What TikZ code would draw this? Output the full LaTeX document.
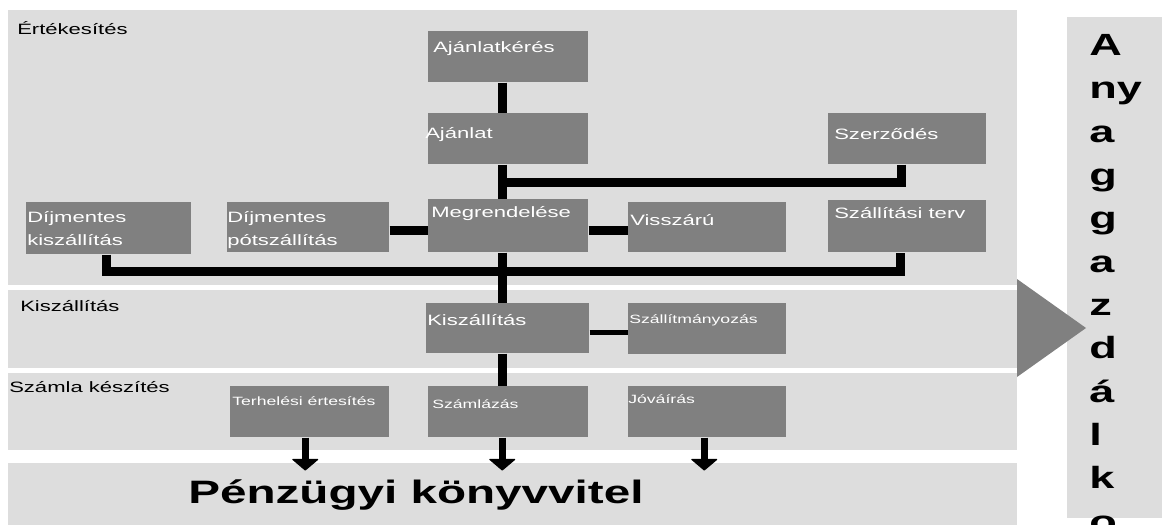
\documentclass[tikz,border=0pt]{standalone}
\usepackage{fontspec}
\setmainfont{Liberation Sans}[FakeStretch=1.47]
\usepackage{xcolor}
\usepackage{tikz}
\usetikzlibrary{arrows.meta, calc}
\definecolor{bandgray}{HTML}{DDDDDD}
\definecolor{boxgray}{HTML}{808080}
\tikzstyle{proc} = [rectangle, anchor=north west, inner sep=0pt, minimum width=120pt, minimum height=38.25pt, fill=boxgray]
\tikzstyle{proctext} = [anchor=base west, inner sep=0pt, text=white, align=left, font=\fontsize{11.25pt}{17.25pt}\selectfont]
\tikzstyle{smalltext} = [proctext, font=\fontsize{9pt}{11pt}\selectfont]
\tikzstyle{lanetext} = [anchor=base west, inner sep=0pt, font=\fontsize{11.25pt}{13.5pt}\selectfont]
\tikzstyle{link} = [line width=7pt]
\tikzstyle{thinlink} = [line width=3.75pt]
\tikzstyle{arrow} = [line width=5.5pt, -{Triangle[width=21pt, length=9pt, line width=1pt, round]}]

\begin{document}
\begin{tikzpicture}[x=0.75pt, y=-0.75pt]
  \useasboundingbox (0,0) rectangle (1162,524);
  % lanes
  \fill[bandgray] (8,10) rectangle (1017,285);
  \fill[bandgray] (8,290) rectangle (1017,368);
  \fill[bandgray] (8,373) rectangle (1017,450);
  \fill[bandgray] (8,463) rectangle (1017,530);
  \fill[bandgray] (1067,17) rectangle (1170,518);
  \fill[boxgray] (1017,279) -- (1086,328) -- (1017,377) -- cycle;

  \node (ertekesites) [lanetext] at (17,35) {Értékesítés};
  \node (kiszlane) [lanetext] at (20,311) {Kiszállítás};
  \node (szamlalane) [lanetext] at (9,392) {Számla készítés};
  \node (penzugy) [anchor=base west, inner sep=0pt, font=\bfseries\fontsize{24.3pt}{29pt}\selectfont] at (188,503) {Pénzügyi könyvvitel};
  % last line sets the base
  \node (anyag) [anchor=base west, inner sep=0pt, align=left, font=\bfseries\fontsize{23pt}{32.5pt}\selectfont] at (1089,532) {A\\ny\\a\\g\\g\\a\\z\\d\\á\\l\\k\\o};

  % process boxes
  \node (ajanlatkeres) [proc] at (428,31) {};
  \node (ajanlat) [proc] at (428,113) {};
  \node (megrendelese) [proc, minimum height=39.75pt] at (428,199) {};
  \node (szerzodes) [proc, minimum width=118.5pt] at (828,113) {};
  \node (dijkisz) [proc, minimum width=123.75pt, minimum height=39pt] at (26,202) {};
  \node (dijpot) [proc, minimum width=121.5pt, minimum height=37.5pt] at (227,202) {};
  \node (visszaru) [proc, minimum width=118.5pt, minimum height=37.5pt] at (628,202) {};
  \node (szallterv) [proc, minimum width=118.5pt, minimum height=39pt] at (828,200) {};
  \node (kiszallitas) [proc, minimum width=122.25pt, minimum height=37.5pt] at (426,303) {};
  \node (szallitmany) [proc, minimum width=118.5pt] at (628,303) {};
  \node (terheles) [proc, minimum width=119.25pt] at (230,386) {};
  \node (szamlazas) [proc] at (428,386) {};
  \node (jovairas) [proc, minimum width=118.5pt] at (628,386) {};

  \node (ajanlatkeres-t) [proctext] at ($(ajanlatkeres.north west)+(5,22)$) {Ajánlatkérés};
  \node (ajanlat-t) [proctext] at ($(ajanlat.north west)+(-3,25)$) {Ajánlat};
  \node (megrendelese-t) [proctext] at ($(megrendelese.north west)+(3,18)$) {Megrendelése};
  \node (szerzodes-t) [proctext] at ($(szerzodes.north west)+(6,27)$) {Szerződés};
  \node (dijkisz-t) [proctext] at ($(dijkisz.north west)+(1,43)$) {Díjmentes\\kiszállítás};
  \node (dijpot-t) [proctext] at ($(dijpot.north west)+(0,43)$) {Díjmentes\\pótszállítás};
  \node (visszaru-t) [proctext] at ($(visszaru.north west)+(2,23)$) {Visszárú};
  \node (szallterv-t) [proctext] at ($(szallterv.north west)+(6,18)$) {Szállítási terv};
  \node (kiszallitas-t) [proctext] at ($(kiszallitas.north west)+(1,22)$) {Kiszállítás};
  \node (szallitmany-t) [smalltext] at ($(szallitmany.north west)+(1,20)$) {Szállítmányozás};
  \node (terheles-t) [smalltext] at ($(terheles.north west)+(2,19)$) {Terhelési értesítés};
  \node (szamlazas-t) [smalltext] at ($(szamlazas.north west)+(4,22)$) {Számlázás};
  \node (jovairas-t) [smalltext] at ($(jovairas.north west)+(0,17)$) {Jóváírás};

  % connectors
  \coordinate (trunk) at ($(ajanlatkeres.south)+(-6,0)$);
  \draw[link] (trunk) -- (trunk |- ajanlat.north);
  \draw[link] (trunk |- ajanlat.south) -- (trunk |- megrendelese.north);
  \draw[link] (trunk |- megrendelese.south) -- (trunk |- kiszallitas.north);
  \draw[link] (trunk |- kiszallitas.south) -- (trunk |- szamlazas.north);
  \coordinate (jszerz) at ($(trunk |- ajanlat.south)+(0,18)$);
  \draw[link] ($(szerzodes.south)+(-6,0)$) |- (jszerz);
  \coordinate (jbus) at ($(trunk |- megrendelese.south)+(0,19)$);
  \draw[link] ($(dijkisz.south)+(-2,0)$) |- (jbus) -| ($(szallterv.south)+(-7,0)$);
  \draw[link] ($(dijpot.east)+(0,3)$) -- ($(megrendelese.west)+(0,4.5)$);
  \draw[link] ($(megrendelese.east)+(0,4.5)$) -- ($(visszaru.west)+(0,3)$);
  \draw[thinlink] ($(kiszallitas.east)+(0,4)$) -- ($(szallitmany.west)+(0,3.5)$);

  \draw[arrow] ($(terheles.south)+(-4.5,0)$) -- ++(0,33);
  \draw[arrow] (trunk |- szamlazas.south) -- ++(0,33);
  \draw[arrow] ($(jovairas.south)+(-3,0)$) -- ++(0,33);
\end{tikzpicture}
\end{document}
